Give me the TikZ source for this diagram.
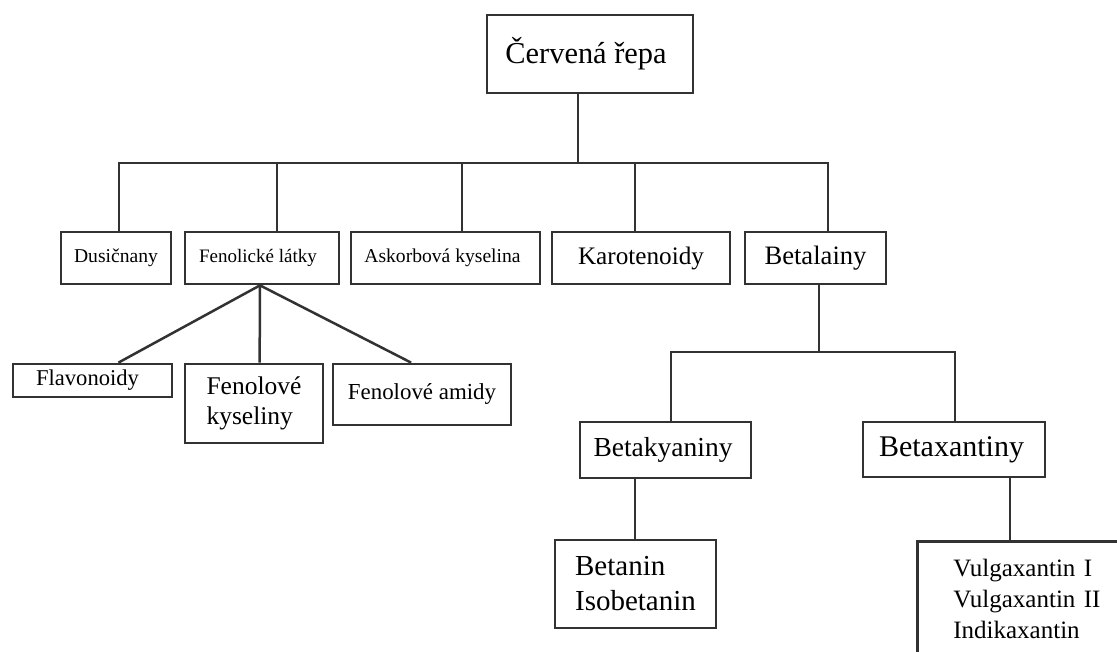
\documentclass[tikz,border=0pt]{standalone}
\usepackage{fontspec}
\setmainfont{Liberation Serif}
\usetikzlibrary{calc}
\definecolor{ln}{RGB}{50,50,50}
\tikzset{
  box/.style={draw=ln, line width=2.7pt, rectangle, inner sep=0pt, fill=white, text=black},
  conn/.style={draw=ln, line width=2.5pt},
}
\newcommand{\fsz}[2]{\fontsize{#1}{#2}\selectfont}
\begin{document}
\begin{tikzpicture}[x=1pt,y=-1pt]
\clip (0,0) rectangle (1117,651);
\fill[white] (0,0) rectangle (1117,651);

% level 0
\node[box, minimum width=206pt, minimum height=78pt, font=\fsz{30.4}{36}] (root) at (590,54) {Červená řepa\kern8pt};

% level 1
\node[box, minimum width=110pt, minimum height=52pt, font=\fsz{19.6}{23}] (dus) at (116,258) {Dusičnany};
\node[box, minimum width=154pt, minimum height=52pt, font=\fsz{19}{23}] (fenol) at (262,258) {Fenolické látky\kern8pt};
\node[box, minimum width=189pt, minimum height=52pt, font=\fsz{19.6}{23}] (askor) at (445.5,258) {Askorbová kyselina\kern6pt};
\node[box, minimum width=178pt, minimum height=52pt, font=\fsz{25.2}{30}] (karot) at (641,258) {Karotenoidy};
\node[box, minimum width=141pt, minimum height=52pt, font=\fsz{26.6}{32}] (betal) at (815.5,258) {Betalainy};

% level 2 (phenolics)
\node[box, minimum width=159pt, minimum height=33pt, font=\fsz{22.6}{27}] (flav) at (92.5,380.5) {Flavonoidy\kern10pt};
\node[box, minimum width=138pt, minimum height=79pt, align=left, font=\fsz{25.5}{30}] (fenkys) at (254,403.5) {Fenolové\\kyseliny};
\node[box, minimum width=178pt, minimum height=61pt, font=\fsz{22.9}{27}] (amid) at (422,394.5) {Fenolové amidy};

% level 2 (betalains)
\node[box, minimum width=171pt, minimum height=56pt, font=\fsz{27.5}{33}] (betak) at (665.5,450) {Betakyaniny\kern5pt};
\node[box, minimum width=182pt, minimum height=55pt, font=\fsz{30}{36}] (betax) at (954,449.5) {Betaxantiny\kern5pt};

% level 3
\node[box, minimum width=161pt, minimum height=88pt, align=left, font=\fsz{29}{35}] (betan) at (635.5,584) {Betanin\\Isobetanin};
\node[box, anchor=north west, minimum width=230pt, minimum height=116pt, text width=158pt, align=left, font=\fsz{25}{31}] (vulg) at (916,540) {Vulgaxantin I\\Vulgaxantin II\\Indikaxantin};

% junction coordinates
\coordinate (jr) at (578,163);
\coordinate (j1) at (119,163);
\coordinate (j2) at (277,163);
\coordinate (j3) at (462,163);
\coordinate (j4) at (635,163);
\coordinate (j5) at (828,163);
\coordinate (kb) at (819,352);
\coordinate (k1) at (671,352);
\coordinate (k2) at (955,352);
\coordinate (a0) at (260,300);
\coordinate (m1) at (635,510);
\coordinate (m2) at (1010,510);

% connectors level 0 -> 1
\draw[conn] (root.south -| jr) -- (jr);
\draw[conn] (dus.north -| j1) -- (j1) -- (j5) -- (betal.north -| j5);
\draw[conn] (j2) -- (fenol.north -| j2);
\draw[conn] (j3) -- (askor.north -| j3);
\draw[conn] (j4) -- (karot.north -| j4);

% phenolics fan
\draw[conn] (fenol.south -| a0) -- ($(flav.north west)!0.66!(flav.north east)$);
\draw[conn] (fenol.south -| a0) -- ($(fenkys.north west)!0.54!(fenkys.north east)$);
\draw[conn] (fenol.south -| a0) -- ($(amid.north west)!0.44!(amid.north east)$);

% betalains
\draw[conn] (betal.south -| kb) -- (kb);
\draw[conn] (betak.north -| k1) -- (k1) -- (k2) -- (betax.north -| k2);
\draw[conn] (betak.south -| m1) -- (betan.north -| m1);
\draw[conn] (betax.south -| m2) -- (vulg.north -| m2);
\end{tikzpicture}
\end{document}
